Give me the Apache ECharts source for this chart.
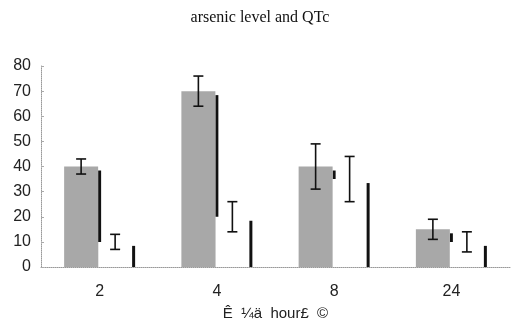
<!DOCTYPE html>
<html>
<head>
<meta charset="utf-8">
<script src="https://cdn.jsdelivr.net/npm/echarts@6/dist/echarts.min.js"></script>
<style>
  html, body { margin: 0; padding: 0; background: #fff; }
  #chart { width: 520px; height: 336px; }
</style>
</head>
<body>
<div id="chart"></div>
<script>
// data
const categories = ['2', '4', '8', '24'];
const grayMean = [40, 70, 40, 15];
const grayErr = [3, 6, 9, 4];
const whiteMean = [10, 20, 35, 10];
const whiteErr = [3, 6, 9, 4];

const chart = echarts.init(document.getElementById('chart'));

// bar + drop shadow + error bar, all placed through the axes
function barRenderer(offset, fill) {
  return function (params, api) {
    const idx = api.value(0);
    const top = api.coord([idx, api.value(1)]);
    const base = api.coord([idx, 0]);
    const hi = api.coord([idx, api.value(1) + api.value(2)]);
    const lo = api.coord([idx, api.value(1) - api.value(2)]);
    const w = 34;
    const x0 = top[0] + offset;
    const cx = x0 + w / 2;
    const kids = [];
    const shadow = {
      type: 'rect',
      shape: { x: x0 + w, y: top[1] + 4, width: 3, height: base[1] - top[1] - 4 },
      style: { fill: '#111' }
    };
    const bar = {
      type: 'rect',
      shape: { x: x0, y: top[1], width: w, height: base[1] - top[1] },
      style: { fill: fill }
    };
    if (fill === '#fff') { kids.push(bar, shadow); } else { kids.push(shadow, bar); }
    const es = { stroke: '#111', lineWidth: 1.6 };
    kids.push(
      { type: 'line', shape: { x1: cx, y1: hi[1], x2: cx, y2: lo[1] }, style: es },
      { type: 'line', shape: { x1: cx - 5, y1: hi[1], x2: cx + 5, y2: hi[1] }, style: es },
      { type: 'line', shape: { x1: cx - 5, y1: lo[1], x2: cx + 5, y2: lo[1] }, style: es }
    );
    return { type: 'group', children: kids };
  };
}

const option = {
  animation: false,
  backgroundColor: '#fff',
  title: {
    text: 'arsenic level and QTc',
    left: 'center',
    top: 10,
    padding: 0,
    textStyle: { fontFamily: 'Liberation Serif', fontSize: 16, fontWeight: 'normal', color: '#111' }
  },
  grid: { left: 41, right: 10, top: 66, bottom: 69 },
  xAxis: {
    type: 'category',
    data: categories,
    name: 'Ê  ¼ä  hour£  ©',
    nameLocation: 'middle',
    nameGap: 39,
    nameTextStyle: { fontFamily: 'Liberation Sans', fontSize: 15, color: '#222' },
    axisLine: { lineStyle: { color: '#999', type: 'dotted', width: 1 } },
    axisTick: { inside: true, length: 4, lineStyle: { color: '#999' } },
    axisLabel: { fontFamily: 'Liberation Sans', fontSize: 16, color: '#222', margin: 17 },
    splitLine: { show: false }
  },
  yAxis: {
    type: 'value',
    min: 0,
    max: 80,
    interval: 10,
    axisLine: { show: true, lineStyle: { color: '#999', type: 'dotted', width: 1 } },
    axisTick: { show: true, inside: true, length: 3, lineStyle: { color: '#aaa' } },
    axisLabel: { fontFamily: 'Liberation Sans', fontSize: 16, color: '#222', margin: 10 },
    splitLine: { show: false }
  },
  series: [
    {
      type: 'custom',
      renderItem: barRenderer(-35.5, '#a8a8a8'),
      data: categories.map((c, i) => [i, grayMean[i], grayErr[i]])
    },
    {
      type: 'custom',
      renderItem: barRenderer(-1.5, '#fff'),
      data: categories.map((c, i) => [i, whiteMean[i], whiteErr[i]])
    }
  ]
};

chart.setOption(option);
window.addEventListener('resize', function () { chart.resize(); });
</script>
</body>
</html>
